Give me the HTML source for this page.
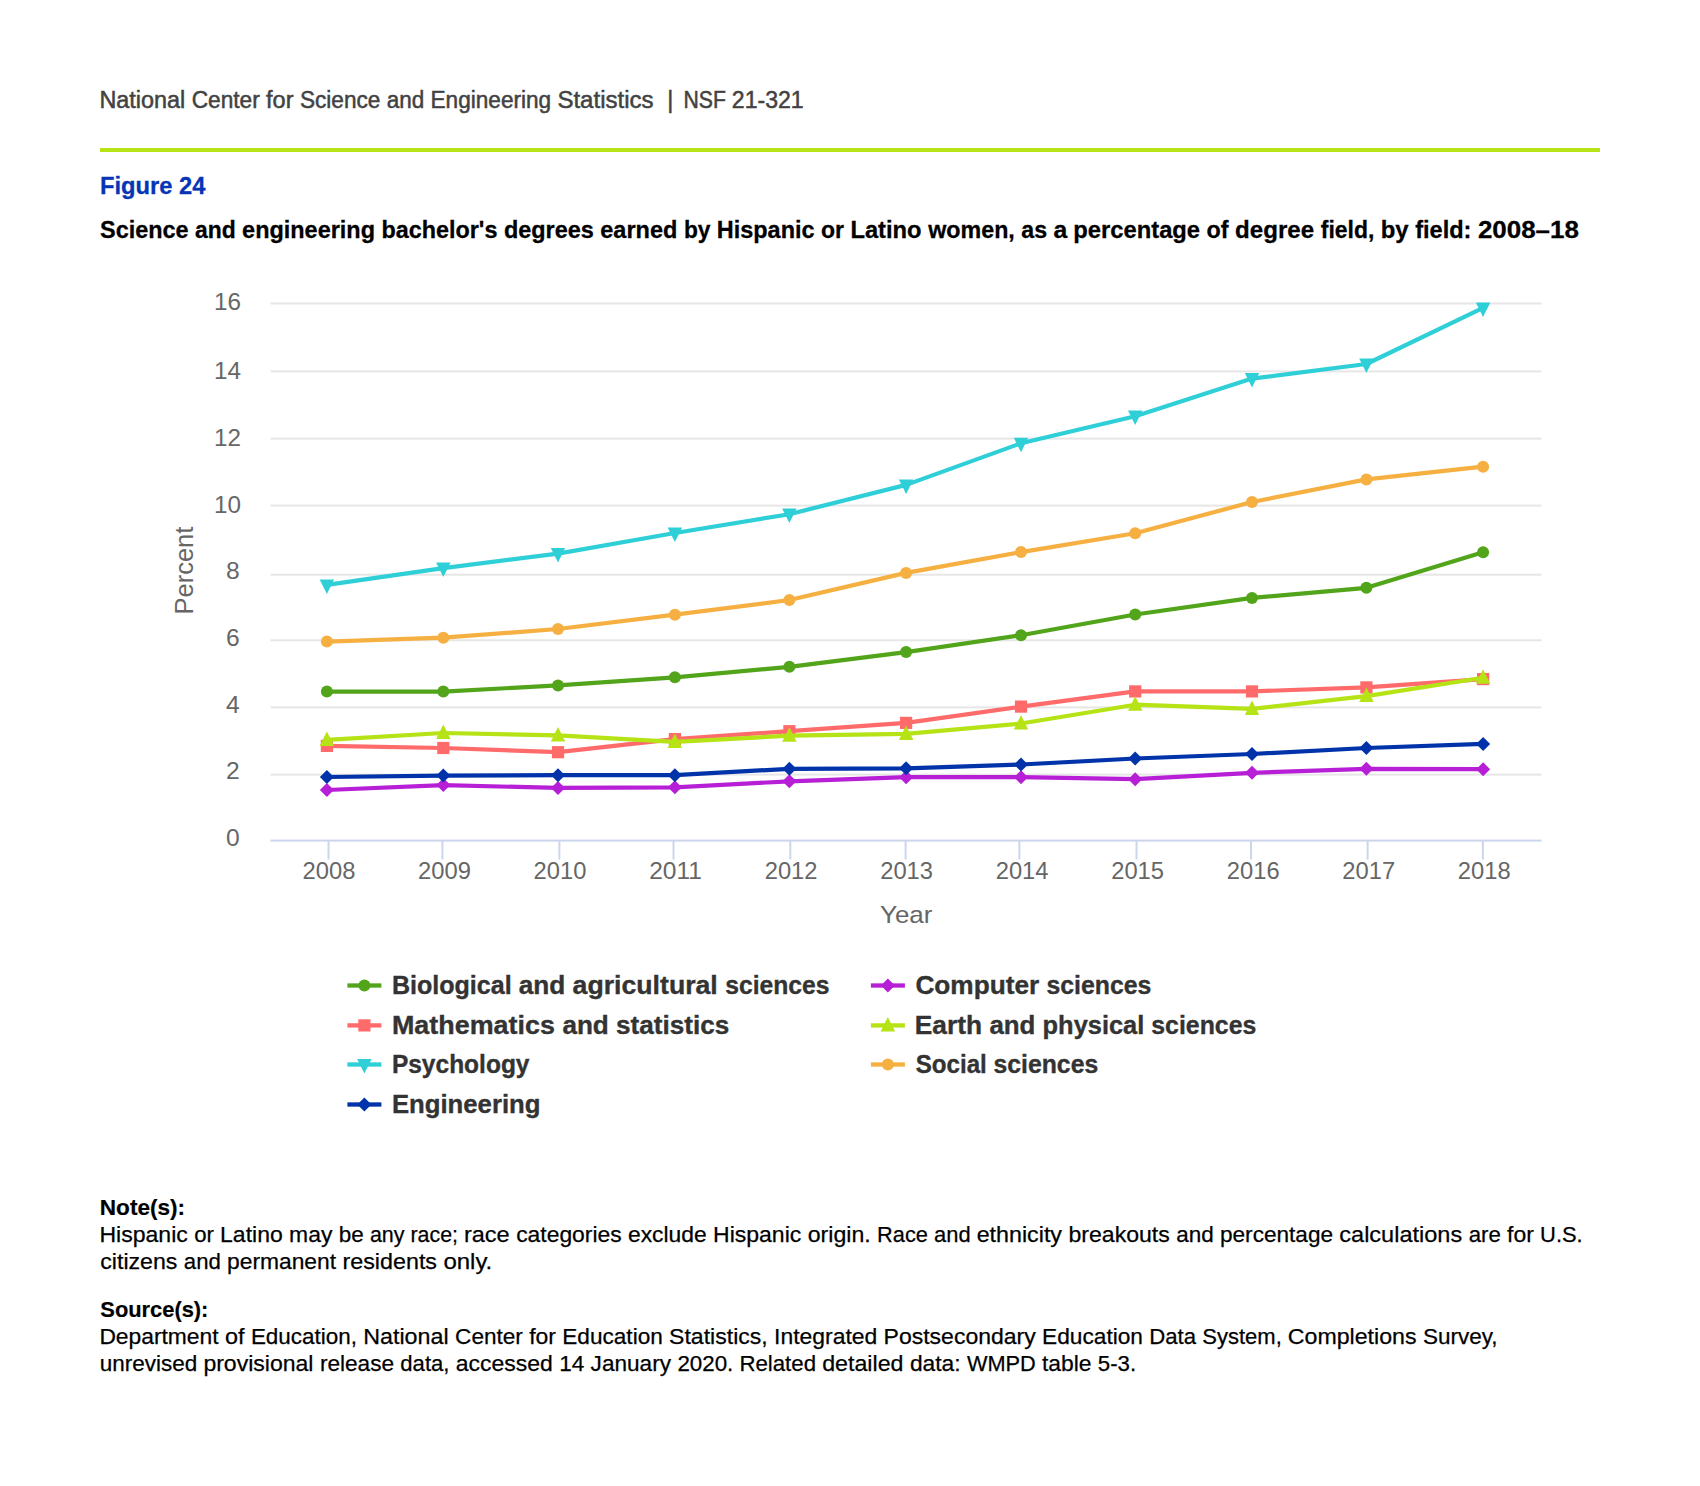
<!DOCTYPE html>
<html lang="en"><head><meta charset="utf-8"><title>Figure 24</title>
<style>html,body{margin:0;padding:0;background:#fff}body{width:1700px;height:1486px;overflow:hidden}svg{display:block}text{font-family:"Liberation Sans",sans-serif}</style></head><body>
<svg width="1700" height="1486" viewBox="0 0 1700 1486">
<rect width="1700" height="1486" fill="#fff"/>
<text y="108.1" font-size="23.3" font-weight="400" fill="#424242" stroke="#424242" stroke-width="0.5"><tspan x="99.4" textLength="85.8" lengthAdjust="spacingAndGlyphs">National</tspan> <tspan x="191.7" textLength="68.1" lengthAdjust="spacingAndGlyphs">Center</tspan> <tspan x="266.1" textLength="27.4" lengthAdjust="spacingAndGlyphs">for</tspan> <tspan x="299.9" textLength="80.5" lengthAdjust="spacingAndGlyphs">Science</tspan> <tspan x="386.7" textLength="37.5" lengthAdjust="spacingAndGlyphs">and</tspan> <tspan x="430.5" textLength="120.7" lengthAdjust="spacingAndGlyphs">Engineering</tspan> <tspan x="557.4" textLength="96.2" lengthAdjust="spacingAndGlyphs">Statistics</tspan></text>
<text y="108.1" font-size="23.3" font-weight="400" fill="#424242" stroke="#424242" stroke-width="0.5"><tspan x="667.2">|</tspan> <tspan x="683.5" textLength="42.4" lengthAdjust="spacingAndGlyphs">NSF</tspan> <tspan x="731.8" textLength="71.9" lengthAdjust="spacingAndGlyphs">21-321</tspan></text>
<rect x="100" y="148" width="1500" height="4" fill="#B5E316"/>
<text x="100.0" y="193.9" font-size="24.8" font-weight="700" fill="#0535B5" text-anchor="start" textLength="105.5" lengthAdjust="spacingAndGlyphs" stroke="#0535B5" stroke-width="0.3">Figure 24</text>
<text y="237.5" font-size="24.8" font-weight="700" fill="#000" stroke="#000" stroke-width="0.3"><tspan x="100.0" textLength="88.6" lengthAdjust="spacingAndGlyphs">Science</tspan> <tspan x="195.1" textLength="40.7" lengthAdjust="spacingAndGlyphs">and</tspan> <tspan x="242.1" textLength="132.9" lengthAdjust="spacingAndGlyphs">engineering</tspan> <tspan x="381.6" textLength="115.8" lengthAdjust="spacingAndGlyphs">bachelor's</tspan> <tspan x="503.9" textLength="89.9" lengthAdjust="spacingAndGlyphs">degrees</tspan> <tspan x="600.3" textLength="77.0" lengthAdjust="spacingAndGlyphs">earned</tspan> <tspan x="683.9" textLength="26.6" lengthAdjust="spacingAndGlyphs">by</tspan> <tspan x="716.8" textLength="97.7" lengthAdjust="spacingAndGlyphs">Hispanic</tspan> <tspan x="821.0" textLength="23.0" lengthAdjust="spacingAndGlyphs">or</tspan> <tspan x="850.4" textLength="71.2" lengthAdjust="spacingAndGlyphs">Latino</tspan> <tspan x="928.3" textLength="86.5" lengthAdjust="spacingAndGlyphs">women,</tspan> <tspan x="1021.3" textLength="25.8" lengthAdjust="spacingAndGlyphs">as</tspan> <tspan x="1053.5">a</tspan> <tspan x="1073.3" textLength="126.8" lengthAdjust="spacingAndGlyphs">percentage</tspan> <tspan x="1206.6" textLength="22.0" lengthAdjust="spacingAndGlyphs">of</tspan> <tspan x="1235.1" textLength="79.0" lengthAdjust="spacingAndGlyphs">degree</tspan> <tspan x="1320.8" textLength="53.5" lengthAdjust="spacingAndGlyphs">field,</tspan> <tspan x="1380.7" textLength="27.9" lengthAdjust="spacingAndGlyphs">by</tspan> <tspan x="1415.2" textLength="56.2" lengthAdjust="spacingAndGlyphs">field:</tspan> <tspan x="1477.9" textLength="101.0" lengthAdjust="spacingAndGlyphs">2008–18</tspan></text>
<rect x="270.5" y="302.5" width="1271.0" height="2" fill="#e6e6e6"/>
<rect x="270.5" y="370.4" width="1271.0" height="2" fill="#e6e6e6"/>
<rect x="270.5" y="437.6" width="1271.0" height="2" fill="#e6e6e6"/>
<rect x="270.5" y="504.6" width="1271.0" height="2" fill="#e6e6e6"/>
<rect x="270.5" y="573.7" width="1271.0" height="2" fill="#e6e6e6"/>
<rect x="270.5" y="639.3" width="1271.0" height="2" fill="#e6e6e6"/>
<rect x="270.5" y="706.4" width="1271.0" height="2" fill="#e6e6e6"/>
<rect x="270.5" y="773.6" width="1271.0" height="2" fill="#e6e6e6"/>
<text x="240.9" y="310.4" font-size="23.3" font-weight="400" fill="#666" text-anchor="end" textLength="27.0" lengthAdjust="spacingAndGlyphs">16</text>
<text x="240.9" y="379.2" font-size="23.3" font-weight="400" fill="#666" text-anchor="end" textLength="27.0" lengthAdjust="spacingAndGlyphs">14</text>
<text x="240.9" y="445.9" font-size="23.3" font-weight="400" fill="#666" text-anchor="end" textLength="27.0" lengthAdjust="spacingAndGlyphs">12</text>
<text x="240.9" y="512.7" font-size="23.3" font-weight="400" fill="#666" text-anchor="end" textLength="27.0" lengthAdjust="spacingAndGlyphs">10</text>
<text x="239.7" y="579.3" font-size="23.3" font-weight="400" fill="#666" text-anchor="end" textLength="13.7" lengthAdjust="spacingAndGlyphs">8</text>
<text x="239.7" y="645.5" font-size="23.3" font-weight="400" fill="#666" text-anchor="end" textLength="13.7" lengthAdjust="spacingAndGlyphs">6</text>
<text x="239.7" y="712.7" font-size="23.3" font-weight="400" fill="#666" text-anchor="end" textLength="13.7" lengthAdjust="spacingAndGlyphs">4</text>
<text x="239.7" y="779.2" font-size="23.3" font-weight="400" fill="#666" text-anchor="end" textLength="13.7" lengthAdjust="spacingAndGlyphs">2</text>
<text x="239.7" y="846.0" font-size="23.3" font-weight="400" fill="#666" text-anchor="end" textLength="13.7" lengthAdjust="spacingAndGlyphs">0</text>
<rect x="270.5" y="839.6" width="1271.0" height="2" fill="#ccd6eb"/>
<rect x="327.5" y="840.6" width="2" height="18.9" fill="#ccd6eb"/>
<text x="329.0" y="879.0" font-size="23.3" font-weight="400" fill="#666" text-anchor="middle" textLength="52.8" lengthAdjust="spacingAndGlyphs">2008</text>
<rect x="441.4" y="840.6" width="2" height="18.9" fill="#ccd6eb"/>
<text x="444.5" y="879.0" font-size="23.3" font-weight="400" fill="#666" text-anchor="middle" textLength="52.8" lengthAdjust="spacingAndGlyphs">2009</text>
<rect x="558.4" y="840.6" width="2" height="18.9" fill="#ccd6eb"/>
<text x="560.0" y="879.0" font-size="23.3" font-weight="400" fill="#666" text-anchor="middle" textLength="52.8" lengthAdjust="spacingAndGlyphs">2010</text>
<rect x="672.5" y="840.6" width="2" height="18.9" fill="#ccd6eb"/>
<text x="675.6" y="879.0" font-size="23.3" font-weight="400" fill="#666" text-anchor="middle" textLength="52.8" lengthAdjust="spacingAndGlyphs">2011</text>
<rect x="789.3" y="840.6" width="2" height="18.9" fill="#ccd6eb"/>
<text x="791.1" y="879.0" font-size="23.3" font-weight="400" fill="#666" text-anchor="middle" textLength="52.8" lengthAdjust="spacingAndGlyphs">2012</text>
<rect x="904.6" y="840.6" width="2" height="18.9" fill="#ccd6eb"/>
<text x="906.6" y="879.0" font-size="23.3" font-weight="400" fill="#666" text-anchor="middle" textLength="52.8" lengthAdjust="spacingAndGlyphs">2013</text>
<rect x="1018.4" y="840.6" width="2" height="18.9" fill="#ccd6eb"/>
<text x="1022.1" y="879.0" font-size="23.3" font-weight="400" fill="#666" text-anchor="middle" textLength="52.8" lengthAdjust="spacingAndGlyphs">2014</text>
<rect x="1135.5" y="840.6" width="2" height="18.9" fill="#ccd6eb"/>
<text x="1137.6" y="879.0" font-size="23.3" font-weight="400" fill="#666" text-anchor="middle" textLength="52.8" lengthAdjust="spacingAndGlyphs">2015</text>
<rect x="1250.0" y="840.6" width="2" height="18.9" fill="#ccd6eb"/>
<text x="1253.2" y="879.0" font-size="23.3" font-weight="400" fill="#666" text-anchor="middle" textLength="52.8" lengthAdjust="spacingAndGlyphs">2016</text>
<rect x="1366.6" y="840.6" width="2" height="18.9" fill="#ccd6eb"/>
<text x="1368.7" y="879.0" font-size="23.3" font-weight="400" fill="#666" text-anchor="middle" textLength="52.8" lengthAdjust="spacingAndGlyphs">2017</text>
<rect x="1481.9" y="840.6" width="2" height="18.9" fill="#ccd6eb"/>
<text x="1484.2" y="879.0" font-size="23.3" font-weight="400" fill="#666" text-anchor="middle" textLength="52.8" lengthAdjust="spacingAndGlyphs">2018</text>
<text x="906.2" y="923.3" font-size="24.6" font-weight="400" fill="#666" text-anchor="middle" textLength="52.5" lengthAdjust="spacingAndGlyphs">Year</text>
<text transform="translate(192.9 570.6) rotate(-90)" font-size="25.6" fill="#666" text-anchor="middle" textLength="88" lengthAdjust="spacingAndGlyphs">Percent</text>
<polyline points="326.9,691.6 443.3,691.6 558.0,685.4 674.9,677.3 789.4,666.8 906.1,652.1 1021.0,635.3 1135.2,614.5 1252.0,597.9 1366.4,587.8 1483.1,552.3" fill="none" stroke="#52A51A" stroke-width="4.2" stroke-linejoin="round" stroke-linecap="round"/>
<circle cx="326.9" cy="691.6" r="6" fill="#52A51A"/>
<circle cx="443.3" cy="691.6" r="6" fill="#52A51A"/>
<circle cx="558.0" cy="685.4" r="6" fill="#52A51A"/>
<circle cx="674.9" cy="677.3" r="6" fill="#52A51A"/>
<circle cx="789.4" cy="666.8" r="6" fill="#52A51A"/>
<circle cx="906.1" cy="652.1" r="6" fill="#52A51A"/>
<circle cx="1021.0" cy="635.3" r="6" fill="#52A51A"/>
<circle cx="1135.2" cy="614.5" r="6" fill="#52A51A"/>
<circle cx="1252.0" cy="597.9" r="6" fill="#52A51A"/>
<circle cx="1366.4" cy="587.8" r="6" fill="#52A51A"/>
<circle cx="1483.1" cy="552.3" r="6" fill="#52A51A"/>
<polyline points="326.9,790.0 443.3,785.1 558.0,787.9 674.9,787.3 789.4,781.3 906.1,777.2 1021.0,777.2 1135.2,779.2 1252.0,772.8 1366.4,768.8 1483.1,769.2" fill="none" stroke="#B71FD6" stroke-width="4.2" stroke-linejoin="round" stroke-linecap="round"/>
<path d="M326.9 783.0L333.9 790.0L326.9 797.0L319.9 790.0Z" fill="#B71FD6"/>
<path d="M443.3 778.1L450.3 785.1L443.3 792.1L436.3 785.1Z" fill="#B71FD6"/>
<path d="M558.0 780.9L565.0 787.9L558.0 794.9L551.0 787.9Z" fill="#B71FD6"/>
<path d="M674.9 780.3L681.9 787.3L674.9 794.3L667.9 787.3Z" fill="#B71FD6"/>
<path d="M789.4 774.3L796.4 781.3L789.4 788.3L782.4 781.3Z" fill="#B71FD6"/>
<path d="M906.1 770.2L913.1 777.2L906.1 784.2L899.1 777.2Z" fill="#B71FD6"/>
<path d="M1021.0 770.2L1028.0 777.2L1021.0 784.2L1014.0 777.2Z" fill="#B71FD6"/>
<path d="M1135.2 772.2L1142.2 779.2L1135.2 786.2L1128.2 779.2Z" fill="#B71FD6"/>
<path d="M1252.0 765.8L1259.0 772.8L1252.0 779.8L1245.0 772.8Z" fill="#B71FD6"/>
<path d="M1366.4 761.8L1373.4 768.8L1366.4 775.8L1359.4 768.8Z" fill="#B71FD6"/>
<path d="M1483.1 762.2L1490.1 769.2L1483.1 776.2L1476.1 769.2Z" fill="#B71FD6"/>
<polyline points="326.9,745.9 443.3,748.0 558.0,752.2 674.9,739.1 789.4,731.2 906.1,722.9 1021.0,706.6 1135.2,691.4 1252.0,691.4 1366.4,687.4 1483.1,679.1" fill="none" stroke="#FF6B6B" stroke-width="4.2" stroke-linejoin="round" stroke-linecap="round"/>
<rect x="320.8" y="739.8" width="12.2" height="12.2" fill="#FF6B6B"/>
<rect x="437.2" y="741.9" width="12.2" height="12.2" fill="#FF6B6B"/>
<rect x="551.9" y="746.1" width="12.2" height="12.2" fill="#FF6B6B"/>
<rect x="668.8" y="733.0" width="12.2" height="12.2" fill="#FF6B6B"/>
<rect x="783.3" y="725.1" width="12.2" height="12.2" fill="#FF6B6B"/>
<rect x="900.0" y="716.8" width="12.2" height="12.2" fill="#FF6B6B"/>
<rect x="1014.9" y="700.5" width="12.2" height="12.2" fill="#FF6B6B"/>
<rect x="1129.1" y="685.3" width="12.2" height="12.2" fill="#FF6B6B"/>
<rect x="1245.9" y="685.3" width="12.2" height="12.2" fill="#FF6B6B"/>
<rect x="1360.3" y="681.3" width="12.2" height="12.2" fill="#FF6B6B"/>
<rect x="1477.0" y="673.0" width="12.2" height="12.2" fill="#FF6B6B"/>
<polyline points="326.9,739.9 443.3,733.0 558.0,735.4 674.9,741.8 789.4,735.7 906.1,733.8 1021.0,723.5 1135.2,704.7 1252.0,708.8 1366.4,696.1 1483.1,677.7" fill="none" stroke="#B5E316" stroke-width="4.2" stroke-linejoin="round" stroke-linecap="round"/>
<path d="M326.9 731.5L334.1 746.0L319.6 746.0Z" fill="#B5E316"/>
<path d="M443.3 724.5L450.6 739.0L436.1 739.0Z" fill="#B5E316"/>
<path d="M558.0 727.0L565.2 741.5L550.8 741.5Z" fill="#B5E316"/>
<path d="M674.9 733.4L682.1 747.9L667.6 747.9Z" fill="#B5E316"/>
<path d="M789.4 727.2L796.6 741.8L782.1 741.8Z" fill="#B5E316"/>
<path d="M906.1 725.4L913.4 739.9L898.9 739.9Z" fill="#B5E316"/>
<path d="M1021.0 715.0L1028.2 729.5L1013.8 729.5Z" fill="#B5E316"/>
<path d="M1135.2 696.2L1142.5 710.8L1128.0 710.8Z" fill="#B5E316"/>
<path d="M1252.0 700.4L1259.2 714.9L1244.8 714.9Z" fill="#B5E316"/>
<path d="M1366.4 687.6L1373.7 702.1L1359.2 702.1Z" fill="#B5E316"/>
<path d="M1483.1 669.2L1490.3 683.8L1475.8 683.8Z" fill="#B5E316"/>
<polyline points="326.9,584.9 443.3,568.2 558.0,553.6 674.9,533.0 789.4,514.2 906.1,484.9 1021.0,443.3 1135.2,416.2 1252.0,378.6 1366.4,364.0 1483.1,307.9" fill="none" stroke="#2FCFD8" stroke-width="4.2" stroke-linejoin="round" stroke-linecap="round"/>
<path d="M319.6 579.4L334.1 579.4L326.9 593.9Z" fill="#2FCFD8"/>
<path d="M436.1 562.6L450.6 562.6L443.3 577.1Z" fill="#2FCFD8"/>
<path d="M550.8 548.0L565.2 548.0L558.0 562.5Z" fill="#2FCFD8"/>
<path d="M667.6 527.5L682.1 527.5L674.9 542.0Z" fill="#2FCFD8"/>
<path d="M782.1 508.6L796.6 508.6L789.4 523.1Z" fill="#2FCFD8"/>
<path d="M898.9 479.4L913.4 479.4L906.1 493.9Z" fill="#2FCFD8"/>
<path d="M1013.8 437.8L1028.2 437.8L1021.0 452.2Z" fill="#2FCFD8"/>
<path d="M1128.0 410.6L1142.5 410.6L1135.2 425.1Z" fill="#2FCFD8"/>
<path d="M1244.8 373.1L1259.2 373.1L1252.0 387.6Z" fill="#2FCFD8"/>
<path d="M1359.2 358.4L1373.7 358.4L1366.4 372.9Z" fill="#2FCFD8"/>
<path d="M1475.8 302.4L1490.3 302.4L1483.1 316.9Z" fill="#2FCFD8"/>
<polyline points="326.9,641.6 443.3,637.7 558.0,629.0 674.9,614.7 789.4,600.0 906.1,572.9 1021.0,552.1 1135.2,533.3 1252.0,502.0 1366.4,479.4 1483.1,466.7" fill="none" stroke="#F5B041" stroke-width="4.2" stroke-linejoin="round" stroke-linecap="round"/>
<circle cx="326.9" cy="641.6" r="6" fill="#F5B041"/>
<circle cx="443.3" cy="637.7" r="6" fill="#F5B041"/>
<circle cx="558.0" cy="629.0" r="6" fill="#F5B041"/>
<circle cx="674.9" cy="614.7" r="6" fill="#F5B041"/>
<circle cx="789.4" cy="600.0" r="6" fill="#F5B041"/>
<circle cx="906.1" cy="572.9" r="6" fill="#F5B041"/>
<circle cx="1021.0" cy="552.1" r="6" fill="#F5B041"/>
<circle cx="1135.2" cy="533.3" r="6" fill="#F5B041"/>
<circle cx="1252.0" cy="502.0" r="6" fill="#F5B041"/>
<circle cx="1366.4" cy="479.4" r="6" fill="#F5B041"/>
<circle cx="1483.1" cy="466.7" r="6" fill="#F5B041"/>
<polyline points="326.9,777.0 443.3,775.6 558.0,775.2 674.9,775.2 789.4,768.8 906.1,768.3 1021.0,764.5 1135.2,758.5 1252.0,754.0 1366.4,748.0 1483.1,743.9" fill="none" stroke="#0033AA" stroke-width="4.2" stroke-linejoin="round" stroke-linecap="round"/>
<path d="M326.9 770.0L333.9 777.0L326.9 784.0L319.9 777.0Z" fill="#0033AA"/>
<path d="M443.3 768.6L450.3 775.6L443.3 782.6L436.3 775.6Z" fill="#0033AA"/>
<path d="M558.0 768.2L565.0 775.2L558.0 782.2L551.0 775.2Z" fill="#0033AA"/>
<path d="M674.9 768.2L681.9 775.2L674.9 782.2L667.9 775.2Z" fill="#0033AA"/>
<path d="M789.4 761.8L796.4 768.8L789.4 775.8L782.4 768.8Z" fill="#0033AA"/>
<path d="M906.1 761.3L913.1 768.3L906.1 775.3L899.1 768.3Z" fill="#0033AA"/>
<path d="M1021.0 757.5L1028.0 764.5L1021.0 771.5L1014.0 764.5Z" fill="#0033AA"/>
<path d="M1135.2 751.5L1142.2 758.5L1135.2 765.5L1128.2 758.5Z" fill="#0033AA"/>
<path d="M1252.0 747.0L1259.0 754.0L1252.0 761.0L1245.0 754.0Z" fill="#0033AA"/>
<path d="M1366.4 741.0L1373.4 748.0L1366.4 755.0L1359.4 748.0Z" fill="#0033AA"/>
<path d="M1483.1 736.9L1490.1 743.9L1483.1 750.9L1476.1 743.9Z" fill="#0033AA"/>
<rect x="347.4" y="983.35" width="34" height="4.3" fill="#52A51A"/>
<circle cx="364.4" cy="985.5" r="6" fill="#52A51A"/>
<text y="994.1" font-size="25" font-weight="700" fill="#333" stroke="#333" stroke-width="0.35"><tspan x="391.9" textLength="119.8" lengthAdjust="spacingAndGlyphs">Biological</tspan> <tspan x="518.7" textLength="46.6" lengthAdjust="spacingAndGlyphs">and</tspan> <tspan x="572.6" textLength="145.2" lengthAdjust="spacingAndGlyphs">agricultural</tspan> <tspan x="725.2" textLength="104.4" lengthAdjust="spacingAndGlyphs">sciences</tspan></text>
<rect x="870.9" y="983.35" width="34" height="4.3" fill="#B71FD6"/>
<path d="M887.9 978.5L894.9 985.5L887.9 992.5L880.9 985.5Z" fill="#B71FD6"/>
<text y="994.1" font-size="25" font-weight="700" fill="#333" stroke="#333" stroke-width="0.35"><tspan x="915.4" textLength="123.8" lengthAdjust="spacingAndGlyphs">Computer</tspan> <tspan x="1046.4" textLength="105.0" lengthAdjust="spacingAndGlyphs">sciences</tspan></text>
<rect x="347.4" y="1023.25" width="34" height="4.3" fill="#FF6B6B"/>
<rect x="358.3" y="1019.3" width="12.2" height="12.2" fill="#FF6B6B"/>
<text y="1034.0" font-size="25" font-weight="700" fill="#333" stroke="#333" stroke-width="0.35"><tspan x="391.9" textLength="163.0" lengthAdjust="spacingAndGlyphs">Mathematics</tspan> <tspan x="562.4" textLength="46.4" lengthAdjust="spacingAndGlyphs">and</tspan> <tspan x="616.0" textLength="113.3" lengthAdjust="spacingAndGlyphs">statistics</tspan></text>
<rect x="870.9" y="1023.25" width="34" height="4.3" fill="#B5E316"/>
<path d="M887.9 1017.0L895.1 1031.5L880.6 1031.5Z" fill="#B5E316"/>
<text y="1034.0" font-size="25" font-weight="700" fill="#333" stroke="#333" stroke-width="0.35"><tspan x="914.7" textLength="67.3" lengthAdjust="spacingAndGlyphs">Earth</tspan> <tspan x="989.4" textLength="46.0" lengthAdjust="spacingAndGlyphs">and</tspan> <tspan x="1042.6" textLength="101.7" lengthAdjust="spacingAndGlyphs">physical</tspan> <tspan x="1151.3" textLength="105.0" lengthAdjust="spacingAndGlyphs">sciences</tspan></text>
<rect x="347.4" y="1062.35" width="34" height="4.3" fill="#2FCFD8"/>
<path d="M357.1 1059.0L371.6 1059.0L364.4 1073.5Z" fill="#2FCFD8"/>
<text y="1073.1" font-size="25" font-weight="700" fill="#333" stroke="#333" stroke-width="0.35"><tspan x="391.9" textLength="137.6" lengthAdjust="spacingAndGlyphs">Psychology</tspan></text>
<rect x="870.9" y="1062.35" width="34" height="4.3" fill="#F5B041"/>
<circle cx="887.9" cy="1064.5" r="6" fill="#F5B041"/>
<text y="1073.1" font-size="25" font-weight="700" fill="#333" stroke="#333" stroke-width="0.35"><tspan x="915.7" textLength="71.1" lengthAdjust="spacingAndGlyphs">Social</tspan> <tspan x="993.5" textLength="104.7" lengthAdjust="spacingAndGlyphs">sciences</tspan></text>
<rect x="347.4" y="1102.35" width="34" height="4.3" fill="#0033AA"/>
<path d="M364.4 1097.5L371.4 1104.5L364.4 1111.5L357.4 1104.5Z" fill="#0033AA"/>
<text y="1113.1" font-size="25" font-weight="700" fill="#333" stroke="#333" stroke-width="0.35"><tspan x="391.9" textLength="148.6" lengthAdjust="spacingAndGlyphs">Engineering</tspan></text>
<text y="1215.3" font-size="22.7" font-weight="700" fill="#000" stroke="#000" stroke-width="0.2"><tspan x="99.8" textLength="85.3" lengthAdjust="spacingAndGlyphs">Note(s):</tspan></text>
<text y="1242.3" font-size="22.7" font-weight="400" fill="#000" stroke="#000" stroke-width="0.25"><tspan x="99.4" textLength="88.4" lengthAdjust="spacingAndGlyphs">Hispanic</tspan> <tspan x="194.2" textLength="19.7" lengthAdjust="spacingAndGlyphs">or</tspan> <tspan x="220.1" textLength="62.6" lengthAdjust="spacingAndGlyphs">Latino</tspan> <tspan x="289.1" textLength="43.3" lengthAdjust="spacingAndGlyphs">may</tspan> <tspan x="338.7" textLength="25.0" lengthAdjust="spacingAndGlyphs">be</tspan> <tspan x="369.9" textLength="34.6" lengthAdjust="spacingAndGlyphs">any</tspan> <tspan x="410.5" textLength="47.5" lengthAdjust="spacingAndGlyphs">race;</tspan> <tspan x="463.9" textLength="45.8" lengthAdjust="spacingAndGlyphs">race</tspan> <tspan x="516.2" textLength="105.5" lengthAdjust="spacingAndGlyphs">categories</tspan> <tspan x="628.0" textLength="78.7" lengthAdjust="spacingAndGlyphs">exclude</tspan> <tspan x="713.0" textLength="88.3" lengthAdjust="spacingAndGlyphs">Hispanic</tspan> <tspan x="807.7" textLength="63.0" lengthAdjust="spacingAndGlyphs">origin.</tspan> <tspan x="877.1" textLength="50.8" lengthAdjust="spacingAndGlyphs">Race</tspan> <tspan x="934.0" textLength="36.6" lengthAdjust="spacingAndGlyphs">and</tspan> <tspan x="976.7" textLength="85.3" lengthAdjust="spacingAndGlyphs">ethnicity</tspan> <tspan x="1068.5" textLength="101.3" lengthAdjust="spacingAndGlyphs">breakouts</tspan> <tspan x="1176.2" textLength="37.5" lengthAdjust="spacingAndGlyphs">and</tspan> <tspan x="1220.0" textLength="113.0" lengthAdjust="spacingAndGlyphs">percentage</tspan> <tspan x="1339.3" textLength="122.9" lengthAdjust="spacingAndGlyphs">calculations</tspan> <tspan x="1468.7" textLength="32.1" lengthAdjust="spacingAndGlyphs">are</tspan> <tspan x="1507.0" textLength="26.8" lengthAdjust="spacingAndGlyphs">for</tspan> <tspan x="1540.1" textLength="42.6" lengthAdjust="spacingAndGlyphs">U.S.</tspan></text>
<text y="1269.1" font-size="22.7" font-weight="400" fill="#000" stroke="#000" stroke-width="0.25"><tspan x="100.3" textLength="77.1" lengthAdjust="spacingAndGlyphs">citizens</tspan> <tspan x="183.8" textLength="37.0" lengthAdjust="spacingAndGlyphs">and</tspan> <tspan x="227.0" textLength="109.1" lengthAdjust="spacingAndGlyphs">permanent</tspan> <tspan x="342.5" textLength="94.5" lengthAdjust="spacingAndGlyphs">residents</tspan> <tspan x="443.4" textLength="48.9" lengthAdjust="spacingAndGlyphs">only.</tspan></text>
<text y="1316.6" font-size="22.7" font-weight="700" fill="#000" stroke="#000" stroke-width="0.2"><tspan x="100.3" textLength="108.1" lengthAdjust="spacingAndGlyphs">Source(s):</tspan></text>
<text y="1343.9" font-size="22.7" font-weight="400" fill="#000" stroke="#000" stroke-width="0.25"><tspan x="99.4" textLength="119.2" lengthAdjust="spacingAndGlyphs">Department</tspan> <tspan x="224.9" textLength="19.5" lengthAdjust="spacingAndGlyphs">of</tspan> <tspan x="250.9" textLength="106.1" lengthAdjust="spacingAndGlyphs">Education,</tspan> <tspan x="363.2" textLength="85.4" lengthAdjust="spacingAndGlyphs">National</tspan> <tspan x="455.1" textLength="67.8" lengthAdjust="spacingAndGlyphs">Center</tspan> <tspan x="529.2" textLength="26.8" lengthAdjust="spacingAndGlyphs">for</tspan> <tspan x="562.3" textLength="100.5" lengthAdjust="spacingAndGlyphs">Education</tspan> <tspan x="669.1" textLength="98.6" lengthAdjust="spacingAndGlyphs">Statistics,</tspan> <tspan x="774.1" textLength="103.2" lengthAdjust="spacingAndGlyphs">Integrated</tspan> <tspan x="883.6" textLength="152.1" lengthAdjust="spacingAndGlyphs">Postsecondary</tspan> <tspan x="1042.1" textLength="100.9" lengthAdjust="spacingAndGlyphs">Education</tspan> <tspan x="1149.3" textLength="46.8" lengthAdjust="spacingAndGlyphs">Data</tspan> <tspan x="1202.3" textLength="79.5" lengthAdjust="spacingAndGlyphs">System,</tspan> <tspan x="1287.8" textLength="128.7" lengthAdjust="spacingAndGlyphs">Completions</tspan> <tspan x="1423.0" textLength="74.6" lengthAdjust="spacingAndGlyphs">Survey,</tspan></text>
<text y="1370.9" font-size="22.7" font-weight="400" fill="#000" stroke="#000" stroke-width="0.25"><tspan x="99.8" textLength="97.4" lengthAdjust="spacingAndGlyphs">unrevised</tspan> <tspan x="203.4" textLength="110.1" lengthAdjust="spacingAndGlyphs">provisional</tspan> <tspan x="319.9" textLength="74.2" lengthAdjust="spacingAndGlyphs">release</tspan> <tspan x="400.3" textLength="49.2" lengthAdjust="spacingAndGlyphs">data,</tspan> <tspan x="455.7" textLength="97.1" lengthAdjust="spacingAndGlyphs">accessed</tspan> <tspan x="559.3" textLength="25.1" lengthAdjust="spacingAndGlyphs">14</tspan> <tspan x="590.6" textLength="80.4" lengthAdjust="spacingAndGlyphs">January</tspan> <tspan x="677.4" textLength="55.9" lengthAdjust="spacingAndGlyphs">2020.</tspan> <tspan x="739.4" textLength="76.6" lengthAdjust="spacingAndGlyphs">Related</tspan> <tspan x="822.2" textLength="81.3" lengthAdjust="spacingAndGlyphs">detailed</tspan> <tspan x="909.9" textLength="50.7" lengthAdjust="spacingAndGlyphs">data:</tspan> <tspan x="967.0" textLength="68.8" lengthAdjust="spacingAndGlyphs">WMPD</tspan> <tspan x="1041.9" textLength="49.6" lengthAdjust="spacingAndGlyphs">table</tspan> <tspan x="1097.8" textLength="38.3" lengthAdjust="spacingAndGlyphs">5-3.</tspan></text>
</svg></body></html>
